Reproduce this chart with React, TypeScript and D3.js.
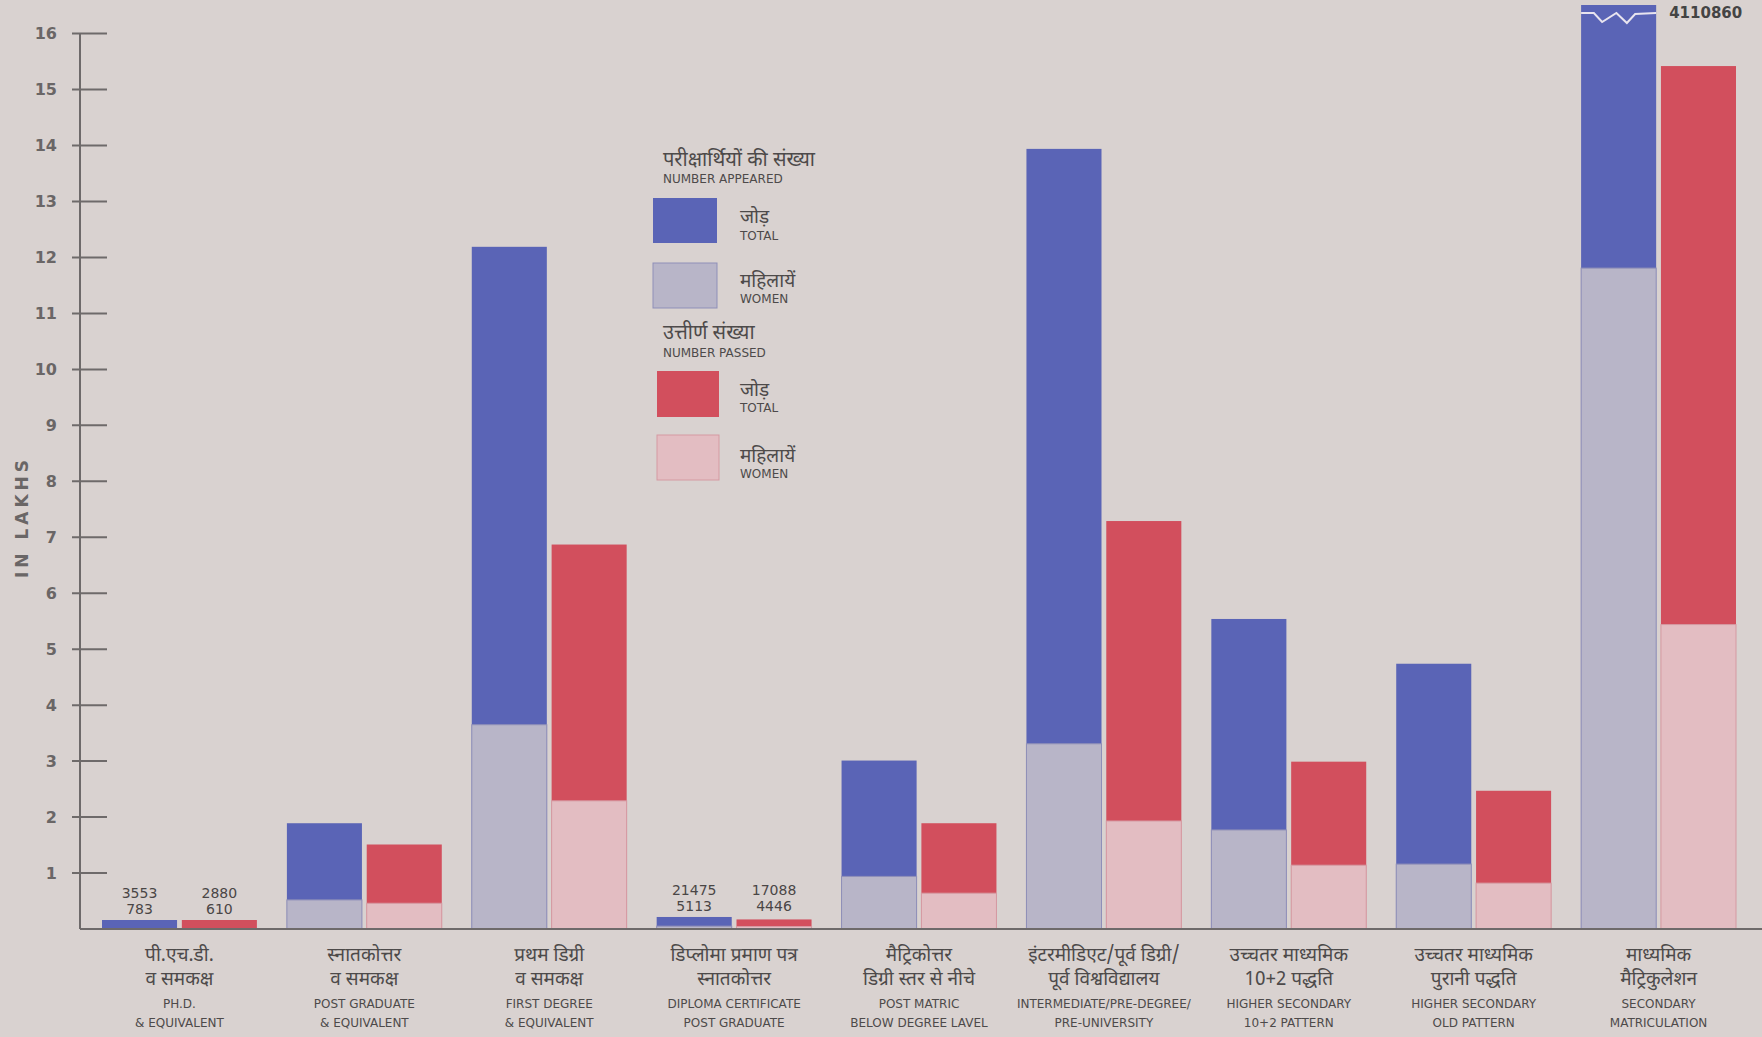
import React from 'react';
import * as d3 from 'd3';

// categories (in order left to right)
const groups = ['phd', 'pg', 'fd', 'dip', 'pm', 'inter', 'hs102', 'hsold', 'sec'];

const labelHindi = [
  ['पी.एच.डी.', 'व समकक्ष'],
  ['स्नातकोत्तर', 'व समकक्ष'],
  ['प्रथम डिग्री', 'व समकक्ष'],
  ['डिप्लोमा प्रमाण पत्र', 'स्नातकोत्तर'],
  ['मैट्रिकोत्तर', 'डिग्री स्तर से नीचे'],
  ['इंटरमीडिएट/पूर्व डिग्री/', 'पूर्व विश्वविद्यालय'],
  ['उच्चतर माध्यमिक', '10+2 पद्धति'],
  ['उच्चतर माध्यमिक', 'पुरानी पद्धति'],
  ['माध्यमिक', 'मैट्रिकुलेशन'],
];

const labelEnglish = [
  ['PH.D.', '& EQUIVALENT'],
  ['POST GRADUATE', '& EQUIVALENT'],
  ['FIRST DEGREE', '& EQUIVALENT'],
  ['DIPLOMA CERTIFICATE', 'POST GRADUATE'],
  ['POST MATRIC', 'BELOW DEGREE LAVEL'],
  ['INTERMEDIATE/PRE-DEGREE/', 'PRE-UNIVERSITY'],
  ['HIGHER SECONDARY', '10+2 PATTERN'],
  ['HIGHER SECONDARY', 'OLD PATTERN'],
  ['SECONDARY', 'MATRICULATION'],
];

// values in lakhs
const appearedTotal = [0.03553, 1.89, 12.19, 0.21475, 3.01, 13.94, 5.54, 4.74, 41.1086];
const appearedWomen = [0.00783, 0.52, 3.65, 0.05113, 0.94, 3.31, 1.77, 1.16, 11.81];
const passedTotal = [0.0288, 1.51, 6.87, 0.17088, 1.89, 7.29, 2.99, 2.47, 15.42];
const passedWomen = [0.0061, 0.46, 2.29, 0.04446, 0.64, 1.93, 1.14, 0.82, 5.44];

// printed counts above the tiny bars: [group, appeared total, appeared women, passed total, passed women]
const smallNotes: [string, string, string, string, string][] = [
  ['phd', '3553', '783', '2880', '610'],
  ['dip', '21475', '5113', '17088', '4446'],
];

const yTicks = d3.range(1, 17);

const colors = {
  bg: '#d9d2d0',
  appTotal: '#5a64b6',
  appWomen: '#b8b5c8',
  passTotal: '#d24f5d',
  passWomen: '#e3bdc2',
  axis: '#6e6a6a',
  text: '#4d4a4a',
};

const hindiFont = "'Noto Sans Devanagari', 'Lohit Devanagari', 'Noto Sans', sans-serif";
const engFont = "'DejaVu Sans', sans-serif";

export default function App() {
  const W = 1762;
  const H = 1037;
  const y = d3.scaleLinear().domain([0, 16]).range([929, 33.6]);
  const x0 = d3.scaleBand<string>().domain(groups).range([87, 1751]);
  const x1 = d3.scaleBand<string>()
    .domain(['appeared', 'passed'])
    .range([15, x0.bandwidth() - 15])
    .paddingInner(0.06);
  const bw = x1.bandwidth();
  const topY = 5;
  const minH = 9;

  // clamp bar top to the drawing area, keep tiny bars visible
  const barTop = (v: number) => Math.min(Math.max(y(v), topY), y(0) - minH);
  const womenTop = (v: number, tot: number) => (y(0) - y(v) < 2 ? y(0) : Math.max(y(v), barTop(tot)));

  const series = [
    { key: 'appeared', total: appearedTotal, women: appearedWomen, c1: colors.appTotal, c2: colors.appWomen, edge: '#8f8fb8' },
    { key: 'passed', total: passedTotal, women: passedWomen, c1: colors.passTotal, c2: colors.passWomen, edge: '#d59aa2' },
  ];

  const zig = [[0, 13], [0.17, 13], [0.28, 22], [0.47, 13], [0.61, 23], [0.72, 14], [1, 13]];
  const secX = (x0('sec') || 0) + (x1('appeared') || 0);
  const zigPath = d3.line()(zig.map(([fx, fy]) => [secX + fx * bw, fy] as [number, number]));

  return (
    <svg width={W} height={H} style={{ position: 'absolute', left: 0, top: 0, display: 'block' }}>
      <rect width={W} height={H} fill={colors.bg} />

      {/* y axis */}
      <line x1={80} x2={80} y1={33} y2={y(0)} stroke={colors.axis} strokeWidth={2} />
      {yTicks.map(t => (
        <g key={t}>
          <line x1={72} x2={107} y1={y(t)} y2={y(t)} stroke={colors.axis} strokeWidth={2} />
          <text x={57} y={y(t)} dy="0.35em" textAnchor="end" fontFamily={engFont} fontSize={16}
            fontWeight="bold" fill="#6a6666">{t}</text>
        </g>
      ))}
      <text transform={`translate(28,517) rotate(-90)`} textAnchor="middle" fontFamily={engFont}
        fontSize={17} fontWeight="bold" letterSpacing={4} fill="#6a6666">IN LAKHS</text>

      {/* bars */}
      {groups.map((g, i) => (
        <g key={g} transform={`translate(${x0(g)},0)`}>
          {series.map(s => {
            const bx = x1(s.key) || 0;
            const t = barTop(s.total[i]);
            const w = womenTop(s.women[i], s.total[i]);
            return (
              <g key={s.key}>
                <rect x={bx} y={t} width={bw} height={y(0) - t} fill={s.c1} />
                {w < y(0) && (
                  <rect x={bx} y={w} width={bw} height={y(0) - w} fill={s.c2}
                    stroke={s.edge} strokeWidth={1} />
                )}
              </g>
            );
          })}
        </g>
      ))}

      {/* baseline */}
      <line x1={80} x2={W} y1={y(0)} y2={y(0)} stroke={colors.axis} strokeWidth={2} />

      {/* broken bar marker */}
      <path d={zigPath || ''} fill="none" stroke="#e8e4ef" strokeWidth={2} />
      <text x={secX + bw + 13} y={18} fontFamily={engFont} fontSize={15} fontWeight="bold"
        fill="#444">4110860</text>

      {/* counts above tiny bars */}
      {smallNotes.map(([g, a1, a2, p1, p2]) => {
        const gx = x0(g) || 0;
        const ax = gx + (x1('appeared') || 0) + bw / 2;
        const px = gx + (x1('passed') || 0) + bw / 2;
        const base = barTop(appearedTotal[groups.indexOf(g)]);
        return (
          <g key={g} fontFamily={engFont} fontSize={14} fill="#4a4646" textAnchor="middle">
            <text x={ax} y={base - 22}>{a1}</text>
            <text x={ax} y={base - 6}>{a2}</text>
            <text x={px} y={base - 22}>{p1}</text>
            <text x={px} y={base - 6}>{p2}</text>
          </g>
        );
      })}

      {/* category labels */}
      {groups.map((g, i) => {
        const cx = (x0(g) || 0) + x0.bandwidth() / 2;
        return (
          <g key={g} textAnchor="middle">
            <text x={cx} y={961} fontFamily={hindiFont} fontSize={19} fill={colors.text}>{labelHindi[i][0]}</text>
            <text x={cx} y={985} fontFamily={hindiFont} fontSize={19} fill={colors.text}>{labelHindi[i][1]}</text>
            <text x={cx} y={1008} fontFamily={engFont} fontSize={12} fill={colors.text}>{labelEnglish[i][0]}</text>
            <text x={cx} y={1027} fontFamily={engFont} fontSize={12} fill={colors.text}>{labelEnglish[i][1]}</text>
          </g>
        );
      })}

      {/* legend */}
      <g fill={colors.text}>
        <text x={663} y={166} fontFamily={hindiFont} fontSize={20}>परीक्षार्थियों की संख्या</text>
        <text x={663} y={183} fontFamily={engFont} fontSize={12}>NUMBER APPEARED</text>
        <rect x={653} y={198} width={64} height={45} fill={colors.appTotal} />
        <text x={740} y={223} fontFamily={hindiFont} fontSize={19}>जोड़</text>
        <text x={740} y={240} fontFamily={engFont} fontSize={12}>TOTAL</text>
        <rect x={653} y={263} width={64} height={45} fill={colors.appWomen} stroke="#8f8fb8" strokeWidth={1} />
        <text x={740} y={287} fontFamily={hindiFont} fontSize={19}>महिलायें</text>
        <text x={740} y={303} fontFamily={engFont} fontSize={12}>WOMEN</text>
        <text x={663} y={339} fontFamily={hindiFont} fontSize={20}>उत्तीर्ण संख्या</text>
        <text x={663} y={357} fontFamily={engFont} fontSize={12}>NUMBER PASSED</text>
        <rect x={657} y={371} width={62} height={46} fill={colors.passTotal} />
        <text x={740} y={396} fontFamily={hindiFont} fontSize={19}>जोड़</text>
        <text x={740} y={412} fontFamily={engFont} fontSize={12}>TOTAL</text>
        <rect x={657} y={435} width={62} height={45} fill={colors.passWomen} stroke="#d59aa2" strokeWidth={1} />
        <text x={740} y={462} fontFamily={hindiFont} fontSize={19}>महिलायें</text>
        <text x={740} y={478} fontFamily={engFont} fontSize={12}>WOMEN</text>
      </g>
    </svg>
  );
}
